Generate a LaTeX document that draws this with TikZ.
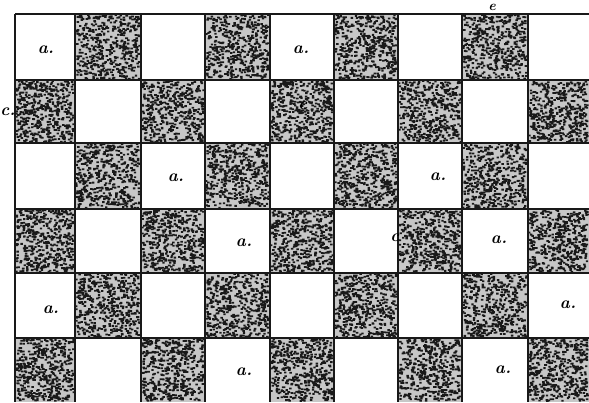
\documentclass[tikz,border=0pt]{standalone}
\begin{document}
\begin{tikzpicture}[x=1pt,y=-1pt,
  lbl/.style={font=\fontsize{17}{17}\selectfont\bfseries\itshape, inner sep=0pt},
  gridline/.style={line width=1.2pt, black!90},
  darkcell/.style={fill=black!22},
  speck/.style={fill=black!90}]
\useasboundingbox (0,0) rectangle (589,402);
\pgfmathsetseed{7}
\def\xs{{15,75,141,205,270,334,398,462,528,589}}
\def\ys{{14,80,143,209,273,338,402}}
% stippled dark cells
\foreach \i in {0,...,8}{
  \foreach \j in {0,...,5}{
    \pgfmathtruncatemacro\cellpar{mod(\i+\j,2)}
    \ifnum\cellpar=1
      \pgfmathsetmacro\xa{\xs[\i]}
      \pgfmathsetmacro\xb{\xs[\i+1]}
      \pgfmathsetmacro\ya{\ys[\j]}
      \pgfmathsetmacro\yb{\ys[\j+1]}
      \fill[darkcell] (\xa,\ya) rectangle (\xb,\yb);
      \fill[speck] foreach \k in {1,...,480}{
        ({\xa+rnd*(\xb-\xa-2.4)},{\ya+rnd*(\yb-\ya-2)}) rectangle ++(2.4,1.8)
      };
    \fi
  }
}
% grid lines
\foreach \i in {0,...,8}{
  \pgfmathsetmacro\xx{\xs[\i]}
  \draw[gridline] (\xx,14) -- (\xx,402);
}
\foreach \j in {0,...,5}{
  \pgfmathsetmacro\yy{\ys[\j]}
  \draw[gridline] (15,\yy) -- (589,\yy);
}
% labels
\node[lbl] (a1) at (46,50) {a.};
\node[lbl] (a2) at (301,50) {a.};
\node[lbl] (a3) at (176,178) {a.};
\node[lbl] (a4) at (438,177) {a.};
\node[lbl] (a5) at (244,243) {a.};
\node[lbl] (a6) at (499,240) {a.};
\node[lbl] (a7) at (51,310) {a.};
\node[lbl] (a8) at (568,305) {a.};
\node[lbl] (a9) at (244,372) {a.};
\node[lbl] (a10) at (503,370) {a.};
\node[lbl] (c1) at (8,112) {c.};
\node[lbl] (c2) at (303,106) {c};
\node[lbl] (c3) at (395,238) {c};
\node[lbl,font=\fontsize{14}{14}\selectfont\bfseries\itshape] (e1) at (492,7) {e};
\end{tikzpicture}
\end{document}
